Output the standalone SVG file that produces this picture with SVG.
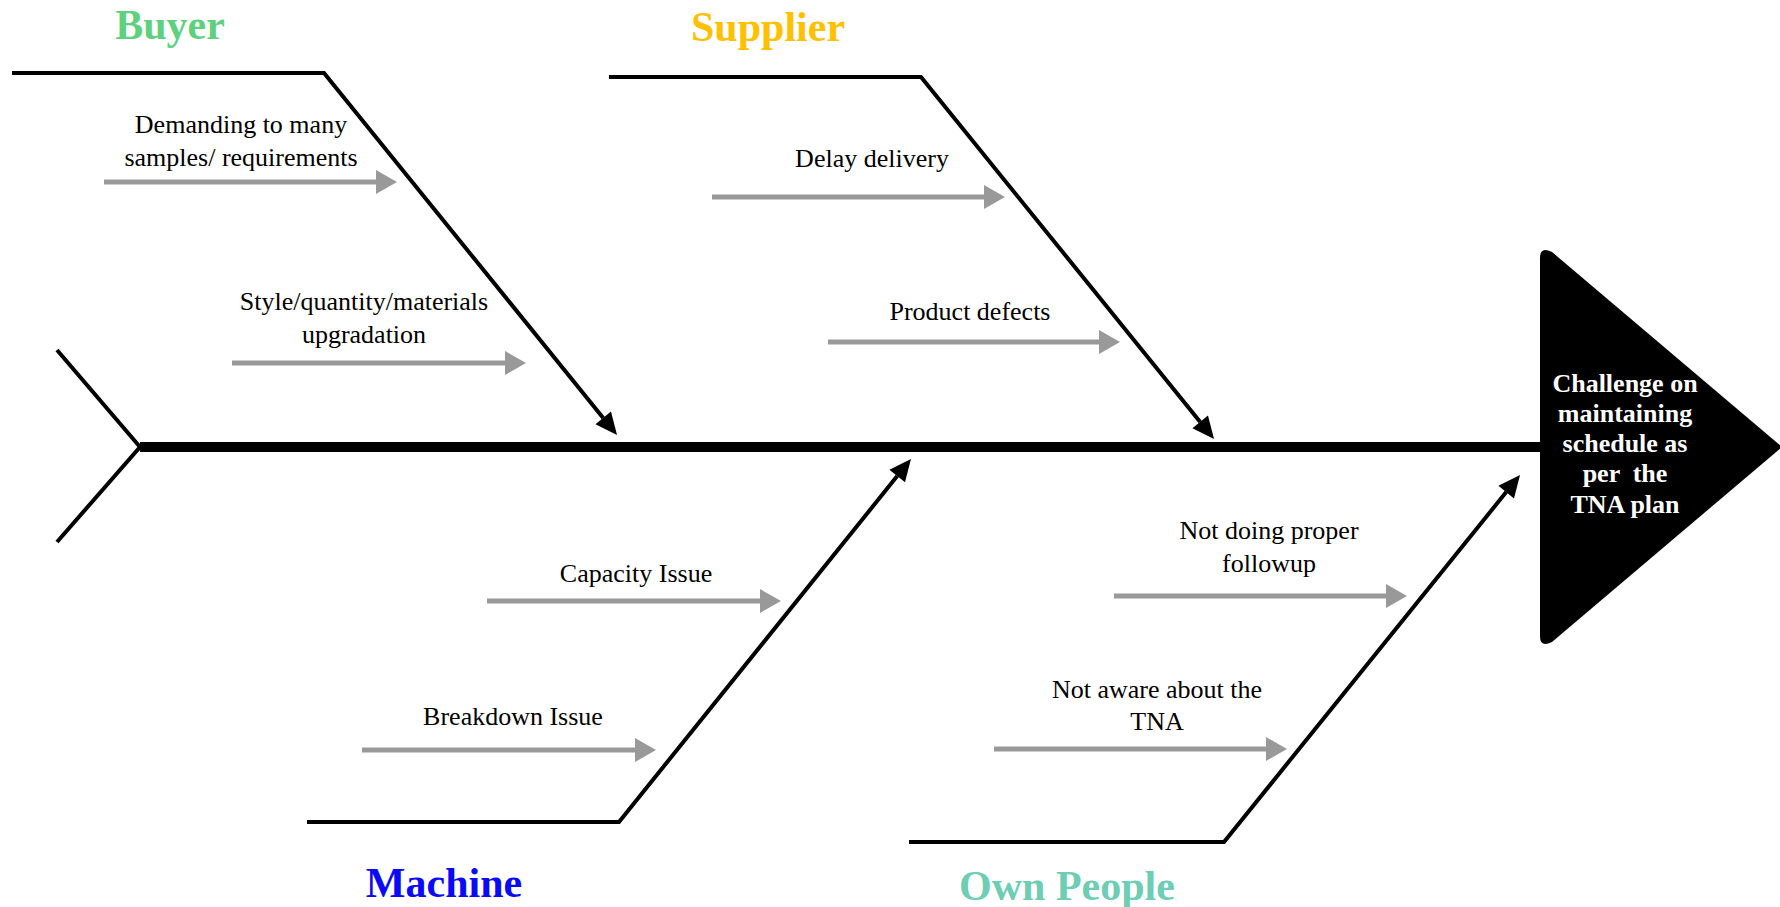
<svg xmlns="http://www.w3.org/2000/svg" width="1780" height="907" viewBox="0 0 1780 907">
  <style>
    .bone { fill: none; stroke: #000; stroke-width: 4; }
    .spine { fill: none; stroke: #000; stroke-width: 10; }
    .cause { stroke: #999; stroke-width: 5; fill: none; }
    .lbl { font-family: "Liberation Serif", "Times New Roman", serif; font-size: 26px; fill: #000; text-anchor: middle; }
    .cat { font-family: "Liberation Serif", "Times New Roman", serif; font-size: 42px; font-weight: bold; text-anchor: middle; }
    .head-txt { font-family: "Liberation Serif", "Times New Roman", serif; font-size: 26px; font-weight: bold; fill: #fff; text-anchor: middle; white-space: pre; }
  </style>
  <defs>
    <marker id="blackHead" markerUnits="userSpaceOnUse" markerWidth="24" markerHeight="22" viewBox="0 -11 24 22" refX="0" refY="0" orient="auto" overflow="visible">
      <path d="M0,-10 L22,0 L0,10 Z" fill="#000"/>
    </marker>
    <marker id="grayHead" markerUnits="userSpaceOnUse" markerWidth="22" markerHeight="26" viewBox="0 -13 22 26" refX="0" refY="0" orient="auto" overflow="visible">
      <path d="M0,-12 L21,0 L0,12 Z" fill="#999"/>
    </marker>
  </defs>

  <!-- spine, tail fork and effect head -->
  <g id="spine">
    <polyline class="bone" points="57,350 140,447 57,542" stroke-width="5"/>
    <line class="spine" x1="140" y1="447" x2="1545" y2="447"/>
  </g>
  <g id="effect">
    <path d="M1540,258 Q1540,246 1552,252 L1782,447 L1552,642 Q1540,648 1540,636 Z" fill="#000"/>
    <text class="head-txt" x="1625" y="392">Challenge on</text>
    <text class="head-txt" x="1625" y="422">maintaining</text>
    <text class="head-txt" x="1625" y="452">schedule as</text>
    <text class="head-txt" x="1625" y="482">per  the</text>
    <text class="head-txt" x="1625" y="513">TNA plan</text>
  </g>

  <!-- category bones -->
  <g id="connectors">
    <polyline class="bone" points="12,73 324,73 603.2,417.9" marker-end="url(#blackHead)"/>
    <polyline class="bone" points="609,77 921,77 1200.2,421.9" marker-end="url(#blackHead)"/>
    <polyline class="bone" points="307,822 619,822 897.2,476.1" marker-end="url(#blackHead)"/>
    <polyline class="bone" points="909,842 1224,842 1506.2,492.1" marker-end="url(#blackHead)"/>

    <line class="cause" x1="104" y1="182" x2="376" y2="182" marker-end="url(#grayHead)"/>
    <line class="cause" x1="232" y1="363" x2="505" y2="363" marker-end="url(#grayHead)"/>
    <line class="cause" x1="712" y1="197" x2="984" y2="197" marker-end="url(#grayHead)"/>
    <line class="cause" x1="828" y1="342" x2="1099" y2="342" marker-end="url(#grayHead)"/>
    <line class="cause" x1="487" y1="601" x2="760" y2="601" marker-end="url(#grayHead)"/>
    <line class="cause" x1="362" y1="750" x2="635" y2="750" marker-end="url(#grayHead)"/>
    <line class="cause" x1="1114" y1="596" x2="1386" y2="596" marker-end="url(#grayHead)"/>
    <line class="cause" x1="994" y1="749" x2="1266" y2="749" marker-end="url(#grayHead)"/>
  </g>

  <g id="buyer">
    <text class="cat" x="170" y="39" fill="#5ED17F">Buyer</text>
    <text class="lbl" x="241" y="133">Demanding to many</text>
    <text class="lbl" x="241" y="166">samples/ requirements</text>
    <text class="lbl" x="364" y="310">Style/quantity/materials</text>
    <text class="lbl" x="364" y="343">upgradation</text>
  </g>

  <g id="supplier">
    <text class="cat" x="768" y="41" fill="#FFC000">Supplier</text>
    <text class="lbl" x="872" y="167">Delay delivery</text>
    <text class="lbl" x="970" y="320">Product defects</text>
  </g>

  <g id="machine">
    <text class="cat" x="444" y="897" fill="#0A0AF5">Machine</text>
    <text class="lbl" x="636" y="582">Capacity Issue</text>
    <text class="lbl" x="513" y="725">Breakdown Issue</text>
  </g>

  <g id="own-people">
    <text class="cat" x="1067" y="900" fill="#6ECDB5">Own People</text>
    <text class="lbl" x="1269" y="539">Not doing proper</text>
    <text class="lbl" x="1269" y="572">followup</text>
    <text class="lbl" x="1157" y="698">Not aware about the</text>
    <text class="lbl" x="1157" y="730">TNA</text>
  </g>
</svg>
